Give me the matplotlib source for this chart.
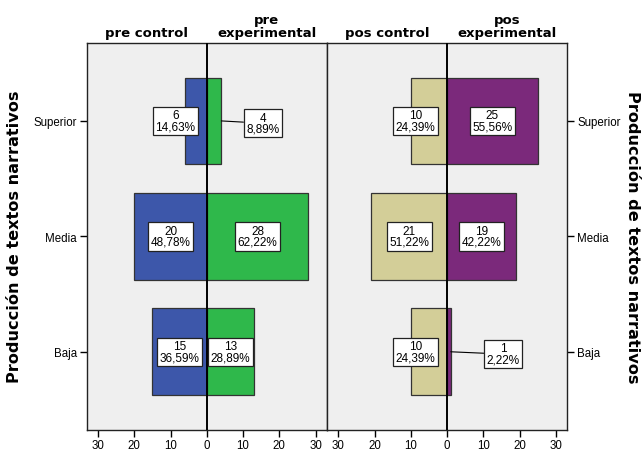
import numpy as np
import matplotlib
matplotlib.use("Agg")
import matplotlib.pyplot as plt

# niveles de la variable
categories = ["Superior", "Media", "Baja"]

# frecuencias y porcentajes
pre_control = [6, 20, 15]
pre_control_pct = [14.63, 48.78, 36.59]
pre_exp = [4, 28, 13]
pre_exp_pct = [8.89, 62.22, 28.89]
pos_control = [10, 21, 10]
pos_control_pct = [24.39, 51.22, 24.39]
pos_exp = [25, 19, 1]
pos_exp_pct = [55.56, 42.22, 2.22]

xticks = [-30, -20, -10, 0, 10, 20, 30]

plt.rcParams["font.family"] = ["Liberation Sans", "DejaVu Sans"]

fig = plt.figure(figsize=(6.42, 4.52), dpi=100)
ax1 = fig.add_axes([86.7 / 642, 21.3 / 452, 240.3 / 642, 386.7 / 452])
ax2 = fig.add_axes([327 / 642, 21.3 / 452, 240.3 / 642, 386.7 / 452])

y = np.arange(len(categories))
bar_h = 0.75


def fmt(v):
    return f"{v:.2f}".replace(".", ",") + "%"


def label_pos(v):
    # small bars get their box pushed out, tiny bars get a leader line
    if v >= 12:
        return v / 2, False
    if v >= 5:
        return max(v / 2, 8.7), False
    return 15.5, True


def draw_side(ax, counts, pcts, color, sign):
    vals = [sign * c for c in counts]
    ax.barh(y, vals, height=bar_h, color=color, edgecolor="#333333", linewidth=0.9, zorder=2)
    for yi, c, p in zip(y, counts, pcts):
        lx, leader = label_pos(c)
        box = dict(boxstyle="square,pad=0.22", fc="white", ec="#222222", lw=0.9)
        txt = f"{c}\n{fmt(p)}"
        if leader:
            ax.annotate(txt, xy=(sign * c, yi), xytext=(sign * lx, yi + 0.02),
                        ha="center", va="center", fontsize=8.5, bbox=box,
                        linespacing=0.92, zorder=4,
                        arrowprops=dict(arrowstyle="-", color="black", lw=0.8,
                                        shrinkA=0, shrinkB=0))
        else:
            ax.text(sign * lx, yi, txt, ha="center", va="center", fontsize=8.5,
                    bbox=box, linespacing=0.92, zorder=4)


draw_side(ax1, pre_control, pre_control_pct, "#3D57AA", -1)
draw_side(ax1, pre_exp, pre_exp_pct, "#2FB84B", 1)
draw_side(ax2, pos_control, pos_control_pct, "#D3CE98", -1)
draw_side(ax2, pos_exp, pos_exp_pct, "#7B297B", 1)

for ax in (ax1, ax2):
    ax.set_facecolor("#EFEFEF")
    ax.set_xlim(-33.15, 33.15)
    ax.set_ylim(2.675, -0.675)
    ax.axvline(0, color="black", lw=1.4, zorder=3)
    ax.set_xticks(xticks)
    ax.set_xticklabels([str(abs(t)) for t in xticks], fontsize=8.3)
    ax.tick_params(axis="x", direction="out", length=5, width=1, pad=2)
    ax.set_yticks(y)
    for s in ax.spines.values():
        s.set_color("#222222")
        s.set_linewidth(1)

ax1.set_yticklabels(categories, fontsize=8.3)
ax1.tick_params(axis="y", direction="out", length=5, width=1, pad=2)
ax2.yaxis.tick_right()
ax2.set_yticklabels(categories, fontsize=8.3)
ax2.tick_params(axis="y", direction="out", length=5, width=1, pad=2)

title_kw = dict(ha="center", va="bottom", fontsize=9.5, fontweight="bold",
                family="DejaVu Sans", linespacing=1.0,
                textcoords="offset points", xytext=(0, 3))
ax1.annotate("pre control", xy=(0.25, 1), xycoords="axes fraction", **title_kw)
ax1.annotate("pre\nexperimental", xy=(0.75, 1), xycoords="axes fraction", **title_kw)
ax2.annotate("pos control", xy=(0.25, 1), xycoords="axes fraction", **title_kw)
ax2.annotate("pos\nexperimental", xy=(0.75, 1), xycoords="axes fraction", **title_kw)

ylab = "Producción de textos narrativos"
fig.text(15 / 642, 1 - 237 / 452, ylab, rotation=90, ha="center", va="center",
         fontsize=11.6, fontweight="bold", family="DejaVu Sans")
fig.text(632 / 642, 1 - 237 / 452, ylab, rotation=270, ha="center", va="center",
         fontsize=11.6, fontweight="bold", family="DejaVu Sans")

fig.savefig("out.png", dpi=100, facecolor="white")
